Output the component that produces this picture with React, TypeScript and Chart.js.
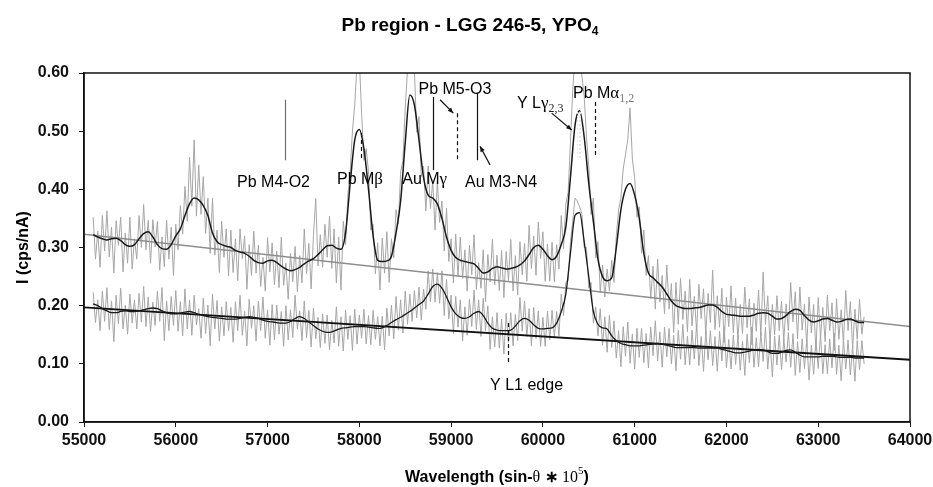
import React, { useEffect, useRef } from "react";
import { Chart, registerables } from "chart.js";

Chart.register(...registerables);

// Wavelength grids (sin-theta * 1e5)
const rawStart = 55100;
const rawStep = 25;
const smoothStart = 55100;
const smoothStep = 50;

// Upper spectrum: raw counts (grey)
const upperRaw = [
  0.352, 0.28, 0.328, 0.266, 0.355, 0.294, 0.363, 0.284, 0.335, 0.256, 0.346, 0.304, 0.352, 0.258, 0.325, 0.273, 0.352, 0.263, 0.315, 0.28,
  0.355, 0.3, 0.374, 0.296, 0.347, 0.273, 0.348, 0.301, 0.345, 0.261, 0.318, 0.267, 0.347, 0.28, 0.335, 0.252, 0.34, 0.296, 0.372, 0.323,
  0.405, 0.345, 0.455, 0.371, 0.485, 0.354, 0.442, 0.357, 0.422, 0.324, 0.385, 0.29, 0.385, 0.287, 0.33, 0.257, 0.345, 0.283, 0.332, 0.251,
  0.33, 0.257, 0.315, 0.243, 0.332, 0.281, 0.32, 0.228, 0.305, 0.252, 0.328, 0.256, 0.304, 0.233, 0.283, 0.225, 0.317, 0.258, 0.308, 0.236,
  0.294, 0.231, 0.318, 0.235, 0.273, 0.211, 0.29, 0.241, 0.302, 0.224, 0.286, 0.239, 0.332, 0.255, 0.307, 0.229, 0.321, 0.384, 0.268, 0.322,
  0.266, 0.34, 0.283, 0.354, 0.264, 0.332, 0.239, 0.318, 0.227, 0.345, 0.305, 0.39, 0.43, 0.5, 0.545, 0.617, 0.623, 0.53, 0.45, 0.47,
  0.43, 0.33, 0.34, 0.255, 0.308, 0.227, 0.316, 0.256, 0.327, 0.24, 0.315, 0.282, 0.365, 0.34, 0.43, 0.45, 0.54, 0.605, 0.632, 0.61,
  0.605, 0.498, 0.525, 0.422, 0.44, 0.363, 0.44, 0.367, 0.415, 0.33, 0.415, 0.343, 0.38, 0.294, 0.368, 0.276, 0.315, 0.239, 0.323, 0.25,
  0.318, 0.247, 0.296, 0.225, 0.304, 0.253, 0.322, 0.228, 0.274, 0.23, 0.296, 0.207, 0.288, 0.241, 0.314, 0.236, 0.287, 0.226, 0.295, 0.214,
  0.293, 0.243, 0.314, 0.225, 0.286, 0.218, 0.31, 0.253, 0.307, 0.242, 0.338, 0.264, 0.32, 0.252, 0.344, 0.281, 0.327, 0.242, 0.306, 0.242,
  0.309, 0.241, 0.305, 0.263, 0.355, 0.298, 0.375, 0.395, 0.48, 0.57, 0.63, 0.628, 0.635, 0.595, 0.56, 0.49, 0.44, 0.357, 0.385, 0.282,
  0.31, 0.222, 0.27, 0.215, 0.263, 0.225, 0.278, 0.24, 0.32, 0.365, 0.385, 0.435, 0.46, 0.486, 0.54, 0.452, 0.42, 0.352, 0.37, 0.29,
  0.33, 0.252, 0.286, 0.212, 0.268, 0.194, 0.28, 0.206, 0.252, 0.186, 0.27, 0.194, 0.238, 0.154, 0.24, 0.168, 0.247, 0.176, 0.225, 0.155,
  0.245, 0.165, 0.216, 0.156, 0.237, 0.178, 0.229, 0.15, 0.221, 0.171, 0.261, 0.159, 0.217, 0.163, 0.23, 0.137, 0.215, 0.164, 0.234, 0.153,
  0.213, 0.142, 0.202, 0.152, 0.232, 0.162, 0.212, 0.133, 0.204, 0.156, 0.227, 0.148, 0.258, 0.168, 0.217, 0.135, 0.202, 0.15, 0.217, 0.157,
  0.208, 0.14, 0.203, 0.157, 0.24, 0.172, 0.224, 0.143, 0.232, 0.158, 0.203, 0.129, 0.215, 0.153, 0.202, 0.123, 0.214, 0.145, 0.197, 0.138,
  0.218, 0.157, 0.205, 0.123, 0.212, 0.142, 0.193, 0.135, 0.226, 0.157, 0.207, 0.126, 0.194, 0.142, 0.211, 0.151, 0.181,
];
// Upper spectrum: smoothed fit (black)
const upperSmooth = [
  0.322, 0.318, 0.315, 0.313, 0.315, 0.316, 0.312, 0.305, 0.302, 0.305,
  0.315, 0.324, 0.327, 0.318, 0.305, 0.298, 0.297, 0.305, 0.32, 0.332,
  0.355, 0.375, 0.385, 0.382, 0.372, 0.355, 0.325, 0.31, 0.305, 0.302,
  0.3, 0.295, 0.292, 0.29, 0.285, 0.278, 0.274, 0.273, 0.277, 0.278,
  0.274, 0.268, 0.263, 0.26, 0.262, 0.266, 0.272, 0.277, 0.281, 0.288,
  0.296, 0.303, 0.304, 0.299, 0.297, 0.325, 0.41, 0.485, 0.503, 0.47,
  0.4, 0.32, 0.278, 0.276, 0.277, 0.285, 0.325, 0.38, 0.48, 0.562,
  0.545, 0.485, 0.42, 0.39, 0.385, 0.375, 0.35, 0.318, 0.295, 0.283,
  0.278, 0.276, 0.274, 0.272, 0.264, 0.256, 0.258, 0.264, 0.267, 0.265,
  0.263, 0.264, 0.266, 0.27, 0.277, 0.288, 0.3, 0.304, 0.297, 0.286,
  0.279, 0.285, 0.305, 0.335, 0.42, 0.51, 0.535, 0.49, 0.41, 0.345,
  0.28, 0.25, 0.243, 0.248, 0.3, 0.365, 0.4, 0.41, 0.39, 0.35,
  0.29, 0.256, 0.248, 0.24, 0.232, 0.22, 0.208, 0.2, 0.197, 0.195,
  0.195, 0.196, 0.197, 0.199, 0.201, 0.201, 0.197, 0.19, 0.185, 0.184,
  0.183, 0.182, 0.182, 0.182, 0.184, 0.187, 0.188, 0.187, 0.182, 0.177,
  0.178, 0.183, 0.19, 0.194, 0.192, 0.183, 0.175, 0.172, 0.174, 0.177,
  0.178, 0.175, 0.172, 0.173, 0.176, 0.177, 0.174, 0.171, 0.171,
];

// Lower spectrum: raw counts (grey)
const lowerRaw = [
  0.223, 0.171, 0.21, 0.157, 0.225, 0.173, 0.231, 0.159, 0.208, 0.138, 0.218, 0.169, 0.23, 0.16, 0.201, 0.151, 0.22, 0.17, 0.21, 0.16,
  0.221, 0.172, 0.233, 0.164, 0.215, 0.156, 0.206, 0.166, 0.225, 0.173, 0.231, 0.14, 0.208, 0.157, 0.216, 0.166, 0.226, 0.156, 0.207, 0.148,
  0.229, 0.16, 0.21, 0.149, 0.218, 0.167, 0.195, 0.144, 0.213, 0.152, 0.201, 0.131, 0.22, 0.16, 0.209, 0.139, 0.198, 0.148, 0.207, 0.157,
  0.197, 0.137, 0.207, 0.157, 0.218, 0.149, 0.19, 0.131, 0.211, 0.161, 0.2, 0.139, 0.208, 0.157, 0.215, 0.144, 0.193, 0.132, 0.202, 0.141,
  0.201, 0.151, 0.19, 0.13, 0.2, 0.141, 0.193, 0.145, 0.218, 0.16, 0.191, 0.14, 0.208, 0.145, 0.192, 0.129, 0.196, 0.143, 0.18, 0.128,
  0.186, 0.135, 0.184, 0.124, 0.175, 0.136, 0.198, 0.13, 0.181, 0.122, 0.192, 0.142, 0.183, 0.123, 0.194, 0.134, 0.184, 0.144, 0.194, 0.134,
  0.183, 0.133, 0.192, 0.142, 0.181, 0.131, 0.182, 0.124, 0.196, 0.148, 0.201, 0.143, 0.216, 0.158, 0.21, 0.153, 0.225, 0.168, 0.22, 0.173,
  0.226, 0.179, 0.232, 0.175, 0.228, 0.194, 0.26, 0.207, 0.263, 0.206, 0.257, 0.204, 0.26, 0.183, 0.245, 0.177, 0.218, 0.152, 0.216, 0.163,
  0.21, 0.139, 0.198, 0.149, 0.211, 0.164, 0.227, 0.159, 0.21, 0.147, 0.213, 0.157, 0.2, 0.125, 0.181, 0.129, 0.188, 0.127, 0.177, 0.117,
  0.187, 0.137, 0.188, 0.131, 0.185, 0.14, 0.214, 0.156, 0.208, 0.147, 0.195, 0.131, 0.197, 0.144, 0.191, 0.13, 0.18, 0.13, 0.191, 0.141,
  0.192, 0.145, 0.19, 0.148, 0.22, 0.183, 0.24, 0.243, 0.31, 0.345, 0.385, 0.38, 0.37, 0.358, 0.3, 0.3, 0.23, 0.24, 0.17, 0.198,
  0.148, 0.195, 0.132, 0.181, 0.12, 0.184, 0.128, 0.174, 0.11, 0.157, 0.095, 0.164, 0.113, 0.172, 0.101, 0.151, 0.091, 0.161, 0.111, 0.161,
  0.102, 0.152, 0.093, 0.163, 0.114, 0.174, 0.105, 0.155, 0.094, 0.163, 0.112, 0.161, 0.1, 0.149, 0.088, 0.158, 0.108, 0.168, 0.098, 0.148,
  0.098, 0.158, 0.108, 0.168, 0.097, 0.147, 0.087, 0.157, 0.107, 0.157, 0.097, 0.147, 0.087, 0.156, 0.105, 0.164, 0.093, 0.142, 0.091, 0.15,
  0.099, 0.149, 0.089, 0.139, 0.08, 0.151, 0.102, 0.163, 0.094, 0.145, 0.095, 0.155, 0.104, 0.163, 0.091, 0.14, 0.078, 0.148, 0.098, 0.149,
  0.09, 0.142, 0.103, 0.154, 0.094, 0.152, 0.08, 0.138, 0.085, 0.143, 0.092, 0.142, 0.072, 0.132, 0.082, 0.142, 0.092, 0.152, 0.083, 0.133,
  0.083, 0.143, 0.093, 0.153, 0.082, 0.132, 0.071, 0.141, 0.091, 0.141, 0.081, 0.131, 0.07, 0.14, 0.09, 0.14, 0.1,
];
// Lower spectrum: smoothed fit (black)
const lowerSmooth = [
  0.203, 0.2, 0.195, 0.191, 0.188, 0.188, 0.19, 0.191, 0.19, 0.19,
  0.191, 0.193, 0.195, 0.196, 0.195, 0.191, 0.188, 0.186, 0.186, 0.187,
  0.189, 0.19, 0.188, 0.185, 0.183, 0.181, 0.18, 0.179, 0.178, 0.177,
  0.177, 0.177, 0.178, 0.18, 0.181, 0.18, 0.178, 0.175, 0.173, 0.172,
  0.171, 0.17, 0.17, 0.173, 0.178, 0.181, 0.178, 0.172, 0.166, 0.16,
  0.156, 0.154, 0.155, 0.158, 0.161, 0.162, 0.163, 0.164, 0.164, 0.164,
  0.163, 0.162, 0.161, 0.162, 0.166, 0.171, 0.176, 0.18, 0.185, 0.19,
  0.196, 0.202, 0.208, 0.22, 0.233, 0.237, 0.23, 0.215, 0.198, 0.186,
  0.18, 0.178, 0.181, 0.187, 0.19, 0.183, 0.17, 0.161, 0.158, 0.157,
  0.157, 0.158, 0.165, 0.174, 0.178, 0.175, 0.167, 0.161, 0.16, 0.161,
  0.162, 0.17, 0.19, 0.22, 0.29, 0.355, 0.36, 0.31, 0.25, 0.19,
  0.168, 0.162, 0.16, 0.148, 0.14, 0.135, 0.133, 0.131, 0.131, 0.131,
  0.132, 0.133, 0.134, 0.135, 0.134, 0.132, 0.13, 0.128, 0.128, 0.128,
  0.128, 0.128, 0.127, 0.127, 0.127, 0.127, 0.127, 0.125, 0.123, 0.121,
  0.119, 0.119, 0.12, 0.122, 0.124, 0.125, 0.124, 0.121, 0.118, 0.118,
  0.12, 0.123, 0.124, 0.12, 0.115, 0.112, 0.112, 0.112, 0.112, 0.113,
  0.113, 0.113, 0.112, 0.111, 0.111, 0.111, 0.11, 0.11, 0.11,
];

// Linear background lines [wavelength, intensity]
const upperBackground = [
  [55000, 0.323],
  [64000, 0.164],
];
const lowerBackground = [
  [55000, 0.197],
  [64000, 0.107],
];

// Axis ticks
const xTicks = [55000, 56000, 57000, 58000, 59000, 60000, 61000, 62000, 63000, 64000];
const yTicks = [0, 0.1, 0.2, 0.3, 0.4, 0.5, 0.6];

// Peak markers (wavelength, from intensity, to intensity)
const markerLines = [
  { x: 57190, y1: 0.554, y2: 0.45, kind: "solidGrey" },
  { x: 58018, y1: 0.497, y2: 0.45, kind: "dashed" },
  { x: 58803, y1: 0.559, y2: 0.433, kind: "solid" },
  { x: 59064, y1: 0.531, y2: 0.45, kind: "dashed" },
  { x: 59282, y1: 0.566, y2: 0.45, kind: "solid" },
  { x: 60372, y1: 0.54, y2: 0.452, kind: "dotted" },
  { x: 60390, y1: 0.54, y2: 0.452, kind: "dotted" },
  { x: 60406, y1: 0.54, y2: 0.452, kind: "dotted" },
  { x: 60568, y1: 0.55, y2: 0.454, kind: "dashed" },
  { x: 59620, y1: 0.17, y2: 0.101, kind: "dashed" },
];
const arrowLines = [
  { x1: 58879, y1: 0.554, x2: 59024, y2: 0.531 },
  { x1: 59424, y1: 0.442, x2: 59315, y2: 0.474 },
  { x1: 60096, y1: 0.531, x2: 60314, y2: 0.502 },
];
const peakLabels = [
  { text: "Pb M4-O2", greek: "", sub: "", x: 57065, y: 0.413, align: "center" },
  { text: "Pb M", greek: "β", sub: "", x: 58007, y: 0.419, align: "center" },
  { text: "Au M", greek: "γ", sub: "", x: 58712, y: 0.419, align: "center" },
  { text: "Pb M5-O3", greek: "", sub: "", x: 59042, y: 0.574, align: "center" },
  { text: "Au M3-N4", greek: "", sub: "", x: 59544, y: 0.413, align: "center" },
  { text: "Y L", greek: "γ", sub: "2,3", x: 59718, y: 0.55, align: "left" },
  { text: "Pb M", greek: "α", sub: "1,2", x: 60328, y: 0.567, align: "left" },
  { text: "Y L1 edge", greek: "", sub: "", x: 59822, y: 0.064, align: "center" },
];

const SANS = "'Liberation Sans', Arial, sans-serif";
const SERIF = "'Liberation Serif', 'Times New Roman', serif";

type Part = { t: string; f: string; dy?: number; c?: string };

function drawRich(ctx: CanvasRenderingContext2D, parts: Part[], x: number, y: number, align: string) {
  let w = 0;
  for (const p of parts) {
    ctx.font = p.f;
    w += ctx.measureText(p.t).width;
  }
  let cx = align === "center" ? x - w / 2 : x;
  ctx.textAlign = "left";
  ctx.textBaseline = "alphabetic";
  for (const p of parts) {
    ctx.font = p.f;
    ctx.fillStyle = p.c || "#000";
    ctx.fillText(p.t, cx, y + (p.dy || 0));
    cx += ctx.measureText(p.t).width;
  }
}

function arrowHead(ctx: CanvasRenderingContext2D, x1: number, y1: number, x2: number, y2: number) {
  const a = Math.atan2(y2 - y1, x2 - x1);
  const L = 6;
  ctx.beginPath();
  ctx.moveTo(x2, y2);
  ctx.lineTo(x2 - L * Math.cos(a - 0.4), y2 - L * Math.sin(a - 0.4));
  ctx.lineTo(x2 - L * Math.cos(a + 0.4), y2 - L * Math.sin(a + 0.4));
  ctx.closePath();
  ctx.fill();
}

const decorPlugin = {
  id: "decor",
  afterDatasetsDraw(chart: any) {
    const ctx: CanvasRenderingContext2D = chart.ctx;
    const xs = chart.scales.x;
    const ys = chart.scales.y;
    const area = chart.chartArea;
    ctx.save();

    for (const m of markerLines) {
      const px = Math.round(xs.getPixelForValue(m.x)) + 0.5;
      ctx.beginPath();
      if (m.kind === "solidGrey") {
        ctx.strokeStyle = "#6e6e6e";
        ctx.lineWidth = 1.2;
        ctx.setLineDash([]);
      } else if (m.kind === "solid") {
        ctx.strokeStyle = "#111";
        ctx.lineWidth = 1.2;
        ctx.setLineDash([]);
      } else if (m.kind === "dashed") {
        ctx.strokeStyle = "#111";
        ctx.lineWidth = 1.2;
        ctx.setLineDash([4, 3]);
      } else {
        ctx.strokeStyle = "#e8e8e8";
        ctx.lineWidth = 1;
        ctx.setLineDash([2, 2]);
      }
      ctx.moveTo(px, ys.getPixelForValue(m.y1));
      ctx.lineTo(px, ys.getPixelForValue(m.y2));
      ctx.stroke();
    }
    ctx.setLineDash([]);

    ctx.strokeStyle = "#111";
    ctx.fillStyle = "#111";
    ctx.lineWidth = 1.2;
    for (const a of arrowLines) {
      const x1 = xs.getPixelForValue(a.x1);
      const y1 = ys.getPixelForValue(a.y1);
      const x2 = xs.getPixelForValue(a.x2);
      const y2 = ys.getPixelForValue(a.y2);
      ctx.beginPath();
      ctx.moveTo(x1, y1);
      ctx.lineTo(x2, y2);
      ctx.stroke();
      arrowHead(ctx, x1, y1, x2, y2);
    }

    for (const l of peakLabels) {
      const px = xs.getPixelForValue(l.x);
      const py = ys.getPixelForValue(l.y) + 5.5;
      const parts: Part[] = [{ t: l.text, f: `16px ${SANS}` }];
      if (l.greek) parts.push({ t: l.greek, f: `17px ${SERIF}` });
      if (l.sub) parts.push({ t: l.sub, f: `12px ${SERIF}`, dy: 4, c: l.greek === "α" ? "#777" : "#222" });
      drawRich(ctx, parts, px, py, l.align);
    }

    ctx.strokeStyle = "#111";
    ctx.lineWidth = 1.5;
    ctx.strokeRect(area.left, area.top, area.right - area.left, area.bottom - area.top);

    drawRich(
      ctx,
      [
        { t: "Pb region - LGG 246-5, YPO", f: `bold 19px ${SANS}` },
        { t: "4", f: `bold 12px ${SANS}`, dy: 4 },
      ],
      470,
      31,
      "center"
    );

    const cxT = (area.left + area.right) / 2;
    drawRich(
      ctx,
      [
        { t: "Wavelength (sin-", f: `bold 16px ${SANS}` },
        { t: "θ", f: `16px ${SERIF}` },
        { t: " ∗ ", f: `bold 16px ${SANS}` },
        { t: "10", f: `16px ${SERIF}` },
        { t: "5", f: `11px ${SERIF}`, dy: -8 },
        { t: ")", f: `bold 16px ${SANS}` },
      ],
      cxT,
      482,
      "center"
    );

    ctx.save();
    ctx.translate(24, (area.top + area.bottom) / 2);
    ctx.rotate(-Math.PI / 2);
    ctx.font = `bold 16px ${SANS}`;
    ctx.fillStyle = "#000";
    ctx.textAlign = "center";
    ctx.textBaseline = "middle";
    ctx.fillText("I (cps/nA)", 0, 0);
    ctx.restore();

    ctx.restore();
  },
};

function series(values: number[], start: number, step: number) {
  return values.map((v, i) => ({ x: start + i * step, y: v }));
}

export default function App() {
  const ref = useRef<HTMLCanvasElement | null>(null);

  useEffect(() => {
    document.body.style.margin = "0";
    const canvas = ref.current;
    if (!canvas) return;
    const chart = new Chart(canvas, {
      type: "line",
      data: {
        datasets: [
          {
            data: series(upperSmooth, smoothStart, smoothStep),
            borderColor: "#1a1a1a",
            borderWidth: 1.5,
            cubicInterpolationMode: "monotone",
            order: 0,
          },
          {
            data: series(lowerSmooth, smoothStart, smoothStep),
            borderColor: "#1a1a1a",
            borderWidth: 1.3,
            cubicInterpolationMode: "monotone",
            order: 0,
          },
          {
            data: lowerBackground.map(([x, y]) => ({ x, y })),
            borderColor: "#111",
            borderWidth: 1.8,
            order: 1,
          },
          {
            data: upperBackground.map(([x, y]) => ({ x, y })),
            borderColor: "#8e8e8e",
            borderWidth: 1.5,
            order: 1,
          },
          {
            data: series(upperRaw, rawStart, rawStep),
            borderColor: "#a6a6a6",
            borderWidth: 1,
            tension: 0,
            order: 2,
          },
          {
            data: series(lowerRaw, rawStart, rawStep),
            borderColor: "#a6a6a6",
            borderWidth: 1,
            tension: 0,
            order: 2,
          },
        ],
      },
      options: {
        animation: false,
        responsive: false,
        maintainAspectRatio: false,
        layout: { padding: { left: 0, right: 23, top: 73, bottom: 0 } },
        elements: { point: { radius: 0 } },
        plugins: { legend: { display: false }, tooltip: { enabled: false }, title: { display: false } },
        scales: {
          x: {
            type: "linear",
            min: 55000,
            max: 64000,
            afterBuildTicks: (s: any) => {
              s.ticks = xTicks.map((v) => ({ value: v }));
            },
            afterFit: (s: any) => {
              s.height = 65;
              s.paddingLeft = 0;
              s.paddingRight = 0;
            },
            grid: { display: true, drawOnChartArea: false, drawTicks: true, tickLength: 5, color: "#111" },
            border: { display: true, color: "#111", width: 1.5 },
            ticks: {
              color: "#111",
              maxRotation: 0,
              autoSkip: false,
              padding: 4,
              font: { family: SANS, weight: "bold", size: 16 },
              callback: (v: any) => String(v),
            },
          },
          y: {
            type: "linear",
            min: 0,
            max: 0.6,
            afterBuildTicks: (s: any) => {
              s.ticks = yTicks.map((v) => ({ value: v }));
            },
            afterFit: (s: any) => {
              s.width = 84;
              s.paddingTop = 0;
              s.paddingBottom = 0;
            },
            grid: { display: true, drawOnChartArea: false, drawTicks: true, tickLength: 5, color: "#111" },
            border: { display: true, color: "#111", width: 1.5 },
            ticks: {
              color: "#111",
              autoSkip: false,
              padding: 10,
              font: { family: SANS, weight: "bold", size: 16 },
              callback: (v: any) => Number(v).toFixed(2),
            },
          },
        },
      },
      plugins: [decorPlugin],
    });
    return () => chart.destroy();
  }, []);

  return (
    <div style={{ width: 933, height: 487, background: "#fff" }}>
      <canvas ref={ref} width={933} height={487} style={{ display: "block", width: 933, height: 487 }} />
    </div>
  );
}
